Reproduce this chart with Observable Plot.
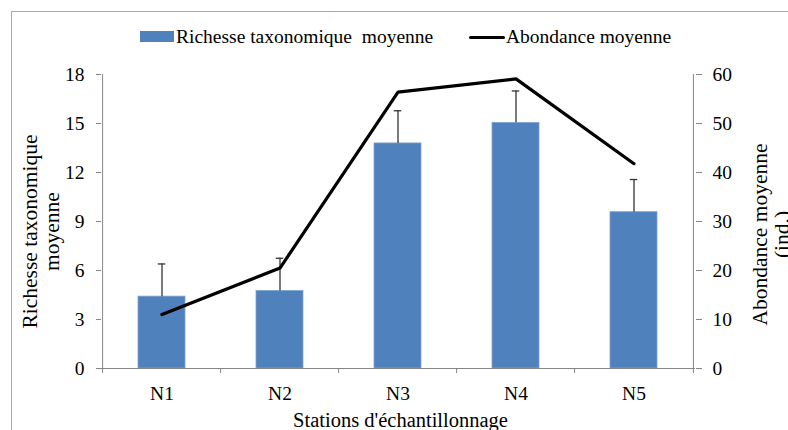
<!DOCTYPE html>
<html>
<head>
<meta charset="utf-8">
<script src="https://cdn.jsdelivr.net/npm/d3@7"></script>
<script src="https://cdn.jsdelivr.net/npm/@observablehq/plot@0.6"></script>
<style>
  html, body { margin: 0; padding: 0; background: #fff; }
  #wrap { position: relative; width: 788px; height: 430px; overflow: hidden; background: #fff; font-family: "Liberation Serif", "Times New Roman", serif; }
  #frame { position: absolute; left: 11px; top: 11px; width: 820px; height: 460px; border: 1.5px solid #a8a8a8; box-sizing: border-box; }
  #chart { position: absolute; left: 0; top: 0; }
  .lg { position: absolute; font-size: 19.5px; line-height: 19.5px; color: #000; white-space: pre; font-family: "Liberation Serif", "Times New Roman", serif; }
  .sw { position: absolute; }
  #chart svg text { font-family: "Liberation Serif", "Times New Roman", serif; }
</style>
</head>
<body>
<div id="wrap">
  <div id="frame"></div>
  <div id="chart"></div>
  <div class="sw" style="left:140px;top:31px;width:34px;height:11px;background:#4F81BD"></div>
  <div class="lg" style="left:176px;top:26.7px">Richesse taxonomique  moyenne</div>
  <div class="sw" style="left:469px;top:35.5px;width:36px;height:3px;background:#000;border-radius:1.5px"></div>
  <div class="lg" style="left:506px;top:26.7px">Abondance moyenne</div>
</div>
<script>
// Data
const stations = ["N1", "N2", "N3", "N4", "N5"];
const richesse = [4.4, 4.75, 13.78, 15.04, 9.57];
const richesseSD = [2.0, 2.0, 2.0, 1.95, 2.0];
const abondance = [11.0, 20.5, 56.4, 59.1, 41.8];
const leftTicks = [0, 3, 6, 9, 12, 15, 18];
const rightTickLabels = [0, 10, 20, 30, 40, 50, 60];
const leftMax = 18, rightMax = 60;

const rows = stations.map((s, i) => ({
  station: s,
  rich: richesse[i],
  top: richesse[i] + richesseSD[i],
  ab: abondance[i]
}));

const W = 788, H = 430;
const mL = 101, mR = 93, mT = 74, mB = 62;
const pInner = 0.6, pOuter = 0.3;
const step = (W - mL - mR) / (stations.length - pInner + 2 * pOuter);
const bw = step * (1 - pInner);
const axisGray = "#868686";
const serif = "'Liberation Serif', 'Times New Roman', serif";

const chart = Plot.plot({
  width: W,
  height: H,
  marginLeft: mL,
  marginRight: mR,
  marginTop: mT,
  marginBottom: mB,
  style: { fontFamily: serif, fontSize: "19.5px", color: "#000", background: "transparent" },
  x: { domain: stations, paddingInner: pInner, paddingOuter: pOuter, align: 0.5 },
  y: { domain: [0, leftMax] },
  marks: [
    Plot.barY(rows, { x: "station", y: "rich", fill: "#4F81BD", stroke: "#7fa3d1", strokeWidth: 0.8 }),
    Plot.ruleX(rows, { x: "station", y1: "rich", y2: "top", stroke: "#333", strokeWidth: 1.3 }),
    Plot.tickY(rows, { x: "station", y: "top", stroke: "#333", strokeWidth: 1.3, insetLeft: (bw - 8) / 2, insetRight: (bw - 8) / 2 }),
    Plot.line(rows, { x: "station", y: d => d.ab * leftMax / rightMax, stroke: "#000", strokeWidth: 3.2, strokeLinejoin: "miter" }),
    // axis lines
    Plot.ruleY([0], { stroke: axisGray, strokeWidth: 1 }),
    Plot.ruleX([stations[0]], { x: d => d, y1: 0, y2: leftMax, dx: -step / 2, stroke: axisGray, strokeWidth: 1 }),
    Plot.ruleX([stations[stations.length - 1]], { x: d => d, y1: 0, y2: leftMax, dx: step / 2, stroke: axisGray, strokeWidth: 1 }),
    // boundary ticks below x axis
    Plot.ruleX(stations, { x: d => d, y1: 0, y2: 0, insetTop: 5, dx: -step / 2, stroke: axisGray, strokeWidth: 1 }),
    Plot.ruleX([stations[stations.length - 1]], { x: d => d, y1: 0, y2: 0, insetTop: 5, dx: step / 2, stroke: axisGray, strokeWidth: 1 }),
    Plot.axisX({ tickSize: 0, tickPadding: 18, label: null, fill: "#000", fontSize: 19.5 }),
    Plot.axisY(leftTicks, { anchor: "left", tickSize: 5, tickPadding: 12, label: null, stroke: axisGray, fill: "#000", fontSize: 19.5 }),
    Plot.axisY(leftTicks, { anchor: "right", tickSize: 6, tickPadding: 11, label: null, stroke: axisGray, fill: "#000", fontSize: 19.5,
      tickFormat: d => String(rightTickLabels[leftTicks.indexOf(d)]) }),
    // axis titles
    Plot.text(["Richesse taxonomique\nmoyenne"], { text: d => d, frameAnchor: "left", rotate: -90, dx: -60.7, dy: 10, lineHeight: 1.03, fontSize: 21.5, fill: "#000", textAnchor: "middle", lineAnchor: "middle" }),
    Plot.text(["Abondance moyenne\n(ind.)"], { text: d => d, frameAnchor: "right", rotate: -90, dx: 75, dy: 13, lineHeight: 1.03, fontSize: 21.5, fill: "#000", textAnchor: "middle", lineAnchor: "middle" }),
    Plot.text(["Stations d'échantillonnage"], { text: d => d, frameAnchor: "bottom", dx: 2, dy: 43.5, lineAnchor: "top", fontSize: 20.5, fill: "#000", textAnchor: "middle" })
  ]
});
document.getElementById("chart").appendChild(chart);
</script>
</body>
</html>
